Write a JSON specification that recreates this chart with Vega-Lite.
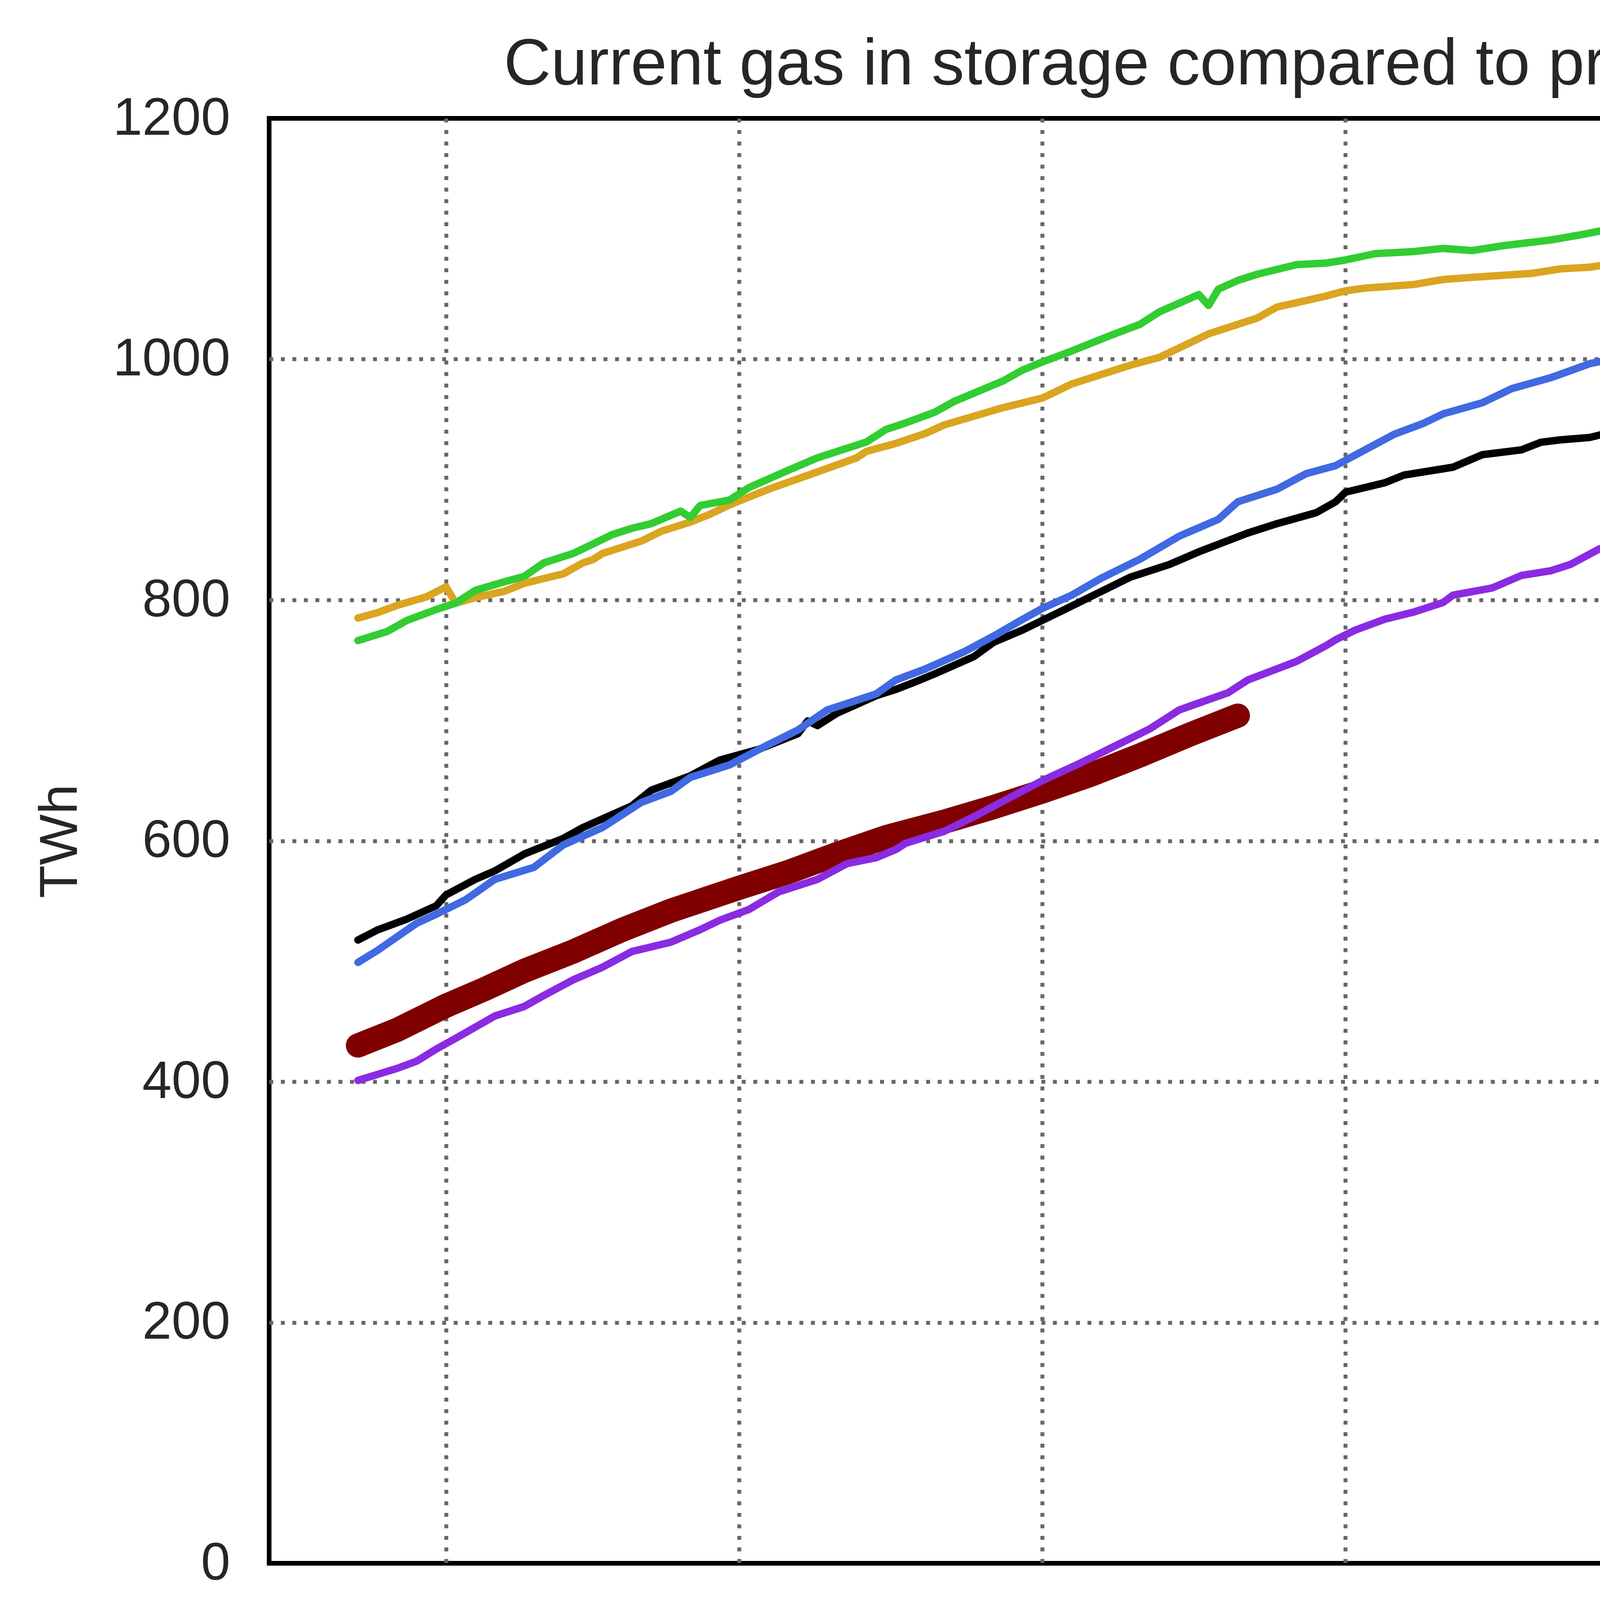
{
  "$schema": "https://vega.github.io/schema/vega-lite/v6.json",
  "title": {
    "text": "Current gas in storage compared to previous years",
    "fontSize": 167,
    "fontWeight": "normal",
    "color": "#262626",
    "font": "Liberation Sans",
    "baseline": "alphabetic",
    "offset": -147
  },
  "width": 4961,
  "height": 3699,
  "autosize": {"type": "none"},
  "padding": {"left": 689, "top": 303, "right": 101, "bottom": 704},
  "data": {
    "values": [
      {"s": "2026", "d": "2026-05-23", "v": 430},
      {"s": "2026", "d": "2026-05-27", "v": 443},
      {"s": "2026", "d": "2026-06-01", "v": 463},
      {"s": "2026", "d": "2026-06-05", "v": 477},
      {"s": "2026", "d": "2026-06-09", "v": 492},
      {"s": "2026", "d": "2026-06-14", "v": 508},
      {"s": "2026", "d": "2026-06-19", "v": 526},
      {"s": "2026", "d": "2026-06-24", "v": 542},
      {"s": "2026", "d": "2026-07-01", "v": 561},
      {"s": "2026", "d": "2026-07-06", "v": 574},
      {"s": "2026", "d": "2026-07-11", "v": 589},
      {"s": "2026", "d": "2026-07-16", "v": 603},
      {"s": "2026", "d": "2026-07-22", "v": 616},
      {"s": "2026", "d": "2026-07-27", "v": 628},
      {"s": "2026", "d": "2026-08-01", "v": 641},
      {"s": "2026", "d": "2026-08-06", "v": 655},
      {"s": "2026", "d": "2026-08-11", "v": 671},
      {"s": "2026", "d": "2026-08-16", "v": 688},
      {"s": "2026", "d": "2026-08-21", "v": 704},

      {"s": "2025", "d": "2026-05-23", "v": 517.6},
      {"s": "2025", "d": "2026-05-25", "v": 526},
      {"s": "2025", "d": "2026-05-28", "v": 535},
      {"s": "2025", "d": "2026-05-31", "v": 546},
      {"s": "2025", "d": "2026-06-01", "v": 555},
      {"s": "2025", "d": "2026-06-04", "v": 568},
      {"s": "2025", "d": "2026-06-06", "v": 575},
      {"s": "2025", "d": "2026-06-09", "v": 589},
      {"s": "2025", "d": "2026-06-13", "v": 602},
      {"s": "2025", "d": "2026-06-15", "v": 611},
      {"s": "2025", "d": "2026-06-20", "v": 629},
      {"s": "2025", "d": "2026-06-22", "v": 642},
      {"s": "2025", "d": "2026-06-26", "v": 654},
      {"s": "2025", "d": "2026-06-29", "v": 667},
      {"s": "2025", "d": "2026-07-03", "v": 676},
      {"s": "2025", "d": "2026-07-07", "v": 689},
      {"s": "2025", "d": "2026-07-08", "v": 699.6},
      {"s": "2025", "d": "2026-07-09", "v": 695.7},
      {"s": "2025", "d": "2026-07-11", "v": 706},
      {"s": "2025", "d": "2026-07-15", "v": 720.5},
      {"s": "2025", "d": "2026-07-17", "v": 725.7},
      {"s": "2025", "d": "2026-07-19", "v": 732},
      {"s": "2025", "d": "2026-07-21", "v": 738.7},
      {"s": "2025", "d": "2026-07-25", "v": 753},
      {"s": "2025", "d": "2026-07-27", "v": 764.8},
      {"s": "2025", "d": "2026-07-30", "v": 775.2},
      {"s": "2025", "d": "2026-08-03", "v": 791},
      {"s": "2025", "d": "2026-08-06", "v": 803},
      {"s": "2025", "d": "2026-08-10", "v": 819},
      {"s": "2025", "d": "2026-08-14", "v": 829.5},
      {"s": "2025", "d": "2026-08-17", "v": 840},
      {"s": "2025", "d": "2026-08-22", "v": 855.6},
      {"s": "2025", "d": "2026-08-25", "v": 863.4},
      {"s": "2025", "d": "2026-08-29", "v": 872.5},
      {"s": "2025", "d": "2026-08-31", "v": 881.6},
      {"s": "2025", "d": "2026-09-01", "v": 889.5},
      {"s": "2025", "d": "2026-09-05", "v": 897.3},
      {"s": "2025", "d": "2026-09-07", "v": 903.8},
      {"s": "2025", "d": "2026-09-12", "v": 910.3},
      {"s": "2025", "d": "2026-09-15", "v": 920.7},
      {"s": "2025", "d": "2026-09-19", "v": 924.7},
      {"s": "2025", "d": "2026-09-21", "v": 931},
      {"s": "2025", "d": "2026-09-23", "v": 933},
      {"s": "2025", "d": "2026-09-26", "v": 935},
      {"s": "2025", "d": "2026-09-28", "v": 939},
      {"s": "2025", "d": "2026-09-30", "v": 937.7},
      {"s": "2025", "d": "2026-10-01", "v": 940.8},
      {"s": "2025", "d": "2026-10-05", "v": 943.4},
      {"s": "2025", "d": "2026-10-07", "v": 947.3},
      {"s": "2025", "d": "2026-10-10", "v": 945},
      {"s": "2025", "d": "2026-10-12", "v": 949.4},
      {"s": "2025", "d": "2026-10-15", "v": 946.8},
      {"s": "2025", "d": "2026-10-17", "v": 944.2},
      {"s": "2025", "d": "2026-10-19", "v": 945.5},
      {"s": "2025", "d": "2026-10-26", "v": 945.5},
      {"s": "2025", "d": "2026-10-29", "v": 944.7},
      {"s": "2025", "d": "2026-11-01", "v": 946.8},
      {"s": "2025", "d": "2026-11-04", "v": 949.4},
      {"s": "2025", "d": "2026-11-06", "v": 947.3},
      {"s": "2025", "d": "2026-11-07", "v": 944.2},
      {"s": "2025", "d": "2026-11-10", "v": 940.8},
      {"s": "2025", "d": "2026-11-12", "v": 938.2},
      {"s": "2025", "d": "2026-11-16", "v": 935},
      {"s": "2025", "d": "2026-11-18", "v": 930},
      {"s": "2025", "d": "2026-11-19", "v": 921},

      {"s": "2024", "d": "2026-05-23", "v": 785},
      {"s": "2024", "d": "2026-05-25", "v": 789.5},
      {"s": "2024", "d": "2026-05-27", "v": 795.5},
      {"s": "2024", "d": "2026-05-30", "v": 802.6},
      {"s": "2024", "d": "2026-06-01", "v": 811},
      {"s": "2024", "d": "2026-06-02", "v": 797.4},
      {"s": "2024", "d": "2026-06-04", "v": 802},
      {"s": "2024", "d": "2026-06-07", "v": 807.3},
      {"s": "2024", "d": "2026-06-09", "v": 813.9},
      {"s": "2024", "d": "2026-06-13", "v": 821.7},
      {"s": "2024", "d": "2026-06-15", "v": 830.8},
      {"s": "2024", "d": "2026-06-16", "v": 833.4},
      {"s": "2024", "d": "2026-06-17", "v": 838.6},
      {"s": "2024", "d": "2026-06-21", "v": 849},
      {"s": "2024", "d": "2026-06-23", "v": 857},
      {"s": "2024", "d": "2026-06-26", "v": 864.7},
      {"s": "2024", "d": "2026-06-28", "v": 871.2},
      {"s": "2024", "d": "2026-06-30", "v": 879},
      {"s": "2024", "d": "2026-07-04", "v": 892},
      {"s": "2024", "d": "2026-07-09", "v": 906.4},
      {"s": "2024", "d": "2026-07-13", "v": 918},
      {"s": "2024", "d": "2026-07-14", "v": 923.4},
      {"s": "2024", "d": "2026-07-17", "v": 930},
      {"s": "2024", "d": "2026-07-20", "v": 938.2},
      {"s": "2024", "d": "2026-07-22", "v": 945.5},
      {"s": "2024", "d": "2026-07-28", "v": 959.8},
      {"s": "2024", "d": "2026-08-01", "v": 967.7},
      {"s": "2024", "d": "2026-08-04", "v": 979.4},
      {"s": "2024", "d": "2026-08-10", "v": 995},
      {"s": "2024", "d": "2026-08-13", "v": 1001.6},
      {"s": "2024", "d": "2026-08-18", "v": 1021},
      {"s": "2024", "d": "2026-08-23", "v": 1034.2},
      {"s": "2024", "d": "2026-08-25", "v": 1043.3},
      {"s": "2024", "d": "2026-08-30", "v": 1052.4},
      {"s": "2024", "d": "2026-09-01", "v": 1056.8},
      {"s": "2024", "d": "2026-09-03", "v": 1059},
      {"s": "2024", "d": "2026-09-08", "v": 1062},
      {"s": "2024", "d": "2026-09-11", "v": 1066.2},
      {"s": "2024", "d": "2026-09-14", "v": 1068},
      {"s": "2024", "d": "2026-09-20", "v": 1071.2},
      {"s": "2024", "d": "2026-09-23", "v": 1075},
      {"s": "2024", "d": "2026-09-26", "v": 1076.4},
      {"s": "2024", "d": "2026-09-29", "v": 1080.3},
      {"s": "2024", "d": "2026-10-01", "v": 1081},
      {"s": "2024", "d": "2026-10-04", "v": 1081},
      {"s": "2024", "d": "2026-10-06", "v": 1084.2},
      {"s": "2024", "d": "2026-10-10", "v": 1087.6},
      {"s": "2024", "d": "2026-10-13", "v": 1091.5},
      {"s": "2024", "d": "2026-10-18", "v": 1090.7},
      {"s": "2024", "d": "2026-10-20", "v": 1094.6},
      {"s": "2024", "d": "2026-10-22", "v": 1094},
      {"s": "2024", "d": "2026-10-25", "v": 1091.5},
      {"s": "2024", "d": "2026-10-28", "v": 1094},
      {"s": "2024", "d": "2026-10-31", "v": 1090.2},
      {"s": "2024", "d": "2026-11-02", "v": 1093.6},
      {"s": "2024", "d": "2026-11-04", "v": 1092.8},
      {"s": "2024", "d": "2026-11-06", "v": 1087},
      {"s": "2024", "d": "2026-11-08", "v": 1074.6},
      {"s": "2024", "d": "2026-11-11", "v": 1068},
      {"s": "2024", "d": "2026-11-13", "v": 1059},
      {"s": "2024", "d": "2026-11-15", "v": 1047.2},
      {"s": "2024", "d": "2026-11-17", "v": 1040.7},
      {"s": "2024", "d": "2026-11-19", "v": 1031},

      {"s": "2023", "d": "2026-05-23", "v": 766.3},
      {"s": "2023", "d": "2026-05-26", "v": 773.9},
      {"s": "2023", "d": "2026-05-28", "v": 783},
      {"s": "2023", "d": "2026-05-31", "v": 792.1},
      {"s": "2023", "d": "2026-06-02", "v": 797.4},
      {"s": "2023", "d": "2026-06-04", "v": 808},
      {"s": "2023", "d": "2026-06-07", "v": 815.2},
      {"s": "2023", "d": "2026-06-09", "v": 819.6},
      {"s": "2023", "d": "2026-06-11", "v": 830.8},
      {"s": "2023", "d": "2026-06-14", "v": 838.6},
      {"s": "2023", "d": "2026-06-16", "v": 846.4},
      {"s": "2023", "d": "2026-06-18", "v": 854.3},
      {"s": "2023", "d": "2026-06-20", "v": 859.5},
      {"s": "2023", "d": "2026-06-22", "v": 863.4},
      {"s": "2023", "d": "2026-06-25", "v": 873.8},
      {"s": "2023", "d": "2026-06-26", "v": 868.6},
      {"s": "2023", "d": "2026-06-27", "v": 878.5},
      {"s": "2023", "d": "2026-06-30", "v": 883},
      {"s": "2023", "d": "2026-07-02", "v": 893.4},
      {"s": "2023", "d": "2026-07-06", "v": 907.7},
      {"s": "2023", "d": "2026-07-09", "v": 918.1},
      {"s": "2023", "d": "2026-07-14", "v": 931.2},
      {"s": "2023", "d": "2026-07-16", "v": 941.6},
      {"s": "2023", "d": "2026-07-18", "v": 947},
      {"s": "2023", "d": "2026-07-21", "v": 956},
      {"s": "2023", "d": "2026-07-23", "v": 965},
      {"s": "2023", "d": "2026-07-28", "v": 982},
      {"s": "2023", "d": "2026-07-30", "v": 991.1},
      {"s": "2023", "d": "2026-08-01", "v": 997.7},
      {"s": "2023", "d": "2026-08-04", "v": 1006.8},
      {"s": "2023", "d": "2026-08-08", "v": 1019.8},
      {"s": "2023", "d": "2026-08-11", "v": 1029},
      {"s": "2023", "d": "2026-08-13", "v": 1039.4},
      {"s": "2023", "d": "2026-08-17", "v": 1053.7},
      {"s": "2023", "d": "2026-08-18", "v": 1044.6},
      {"s": "2023", "d": "2026-08-19", "v": 1058.1},
      {"s": "2023", "d": "2026-08-21", "v": 1065.4},
      {"s": "2023", "d": "2026-08-23", "v": 1070.6},
      {"s": "2023", "d": "2026-08-27", "v": 1078.5},
      {"s": "2023", "d": "2026-08-30", "v": 1079.8},
      {"s": "2023", "d": "2026-09-01", "v": 1082.4},
      {"s": "2023", "d": "2026-09-04", "v": 1087.6},
      {"s": "2023", "d": "2026-09-08", "v": 1089.4},
      {"s": "2023", "d": "2026-09-11", "v": 1092},
      {"s": "2023", "d": "2026-09-14", "v": 1090.2},
      {"s": "2023", "d": "2026-09-17", "v": 1094.1},
      {"s": "2023", "d": "2026-09-22", "v": 1099},
      {"s": "2023", "d": "2026-09-25", "v": 1103.2},
      {"s": "2023", "d": "2026-09-30", "v": 1111.1},
      {"s": "2023", "d": "2026-10-05", "v": 1120.2},
      {"s": "2023", "d": "2026-10-07", "v": 1125.9},
      {"s": "2023", "d": "2026-10-08", "v": 1101.9},
      {"s": "2023", "d": "2026-10-09", "v": 1129.3},
      {"s": "2023", "d": "2026-10-12", "v": 1134.5},
      {"s": "2023", "d": "2026-10-15", "v": 1143.1},
      {"s": "2023", "d": "2026-10-19", "v": 1143.1},
      {"s": "2023", "d": "2026-10-22", "v": 1151.5},
      {"s": "2023", "d": "2026-10-27", "v": 1151.5},
      {"s": "2023", "d": "2026-10-30", "v": 1158},
      {"s": "2023", "d": "2026-11-02", "v": 1161.9},
      {"s": "2023", "d": "2026-11-05", "v": 1164.5},
      {"s": "2023", "d": "2026-11-07", "v": 1164.5},
      {"s": "2023", "d": "2026-11-10", "v": 1161.4},
      {"s": "2023", "d": "2026-11-12", "v": 1161.4},
      {"s": "2023", "d": "2026-11-15", "v": 1160.6},
      {"s": "2023", "d": "2026-11-17", "v": 1155.4},
      {"s": "2023", "d": "2026-11-19", "v": 1156.2},

      {"s": "2022", "d": "2026-05-23", "v": 499},
      {"s": "2022", "d": "2026-05-25", "v": 509},
      {"s": "2022", "d": "2026-05-29", "v": 531.5},
      {"s": "2022", "d": "2026-05-31", "v": 539},
      {"s": "2022", "d": "2026-06-03", "v": 551},
      {"s": "2022", "d": "2026-06-06", "v": 568},
      {"s": "2022", "d": "2026-06-10", "v": 578},
      {"s": "2022", "d": "2026-06-13", "v": 596.6},
      {"s": "2022", "d": "2026-06-17", "v": 611},
      {"s": "2022", "d": "2026-06-21", "v": 632},
      {"s": "2022", "d": "2026-06-24", "v": 641},
      {"s": "2022", "d": "2026-06-26", "v": 652.7},
      {"s": "2022", "d": "2026-06-30", "v": 663},
      {"s": "2022", "d": "2026-07-04", "v": 680},
      {"s": "2022", "d": "2026-07-07", "v": 692},
      {"s": "2022", "d": "2026-07-10", "v": 708.7},
      {"s": "2022", "d": "2026-07-15", "v": 722},
      {"s": "2022", "d": "2026-07-17", "v": 733.5},
      {"s": "2022", "d": "2026-07-20", "v": 742.6},
      {"s": "2022", "d": "2026-07-24", "v": 757},
      {"s": "2022", "d": "2026-07-27", "v": 770},
      {"s": "2022", "d": "2026-07-30", "v": 784},
      {"s": "2022", "d": "2026-08-01", "v": 793},
      {"s": "2022", "d": "2026-08-04", "v": 804},
      {"s": "2022", "d": "2026-08-07", "v": 818},
      {"s": "2022", "d": "2026-08-11", "v": 834},
      {"s": "2022", "d": "2026-08-15", "v": 853},
      {"s": "2022", "d": "2026-08-19", "v": 867},
      {"s": "2022", "d": "2026-08-21", "v": 881.6},
      {"s": "2022", "d": "2026-08-25", "v": 892},
      {"s": "2022", "d": "2026-08-28", "v": 905},
      {"s": "2022", "d": "2026-08-31", "v": 911.6},
      {"s": "2022", "d": "2026-09-03", "v": 924.7},
      {"s": "2022", "d": "2026-09-06", "v": 937.7},
      {"s": "2022", "d": "2026-09-09", "v": 946.8},
      {"s": "2022", "d": "2026-09-11", "v": 954.6},
      {"s": "2022", "d": "2026-09-15", "v": 963.8},
      {"s": "2022", "d": "2026-09-18", "v": 975.5},
      {"s": "2022", "d": "2026-09-22", "v": 984.6},
      {"s": "2022", "d": "2026-09-26", "v": 996.3},
      {"s": "2022", "d": "2026-09-30", "v": 1003},
      {"s": "2022", "d": "2026-10-02", "v": 1013},
      {"s": "2022", "d": "2026-10-07", "v": 1026},
      {"s": "2022", "d": "2026-10-10", "v": 1037},
      {"s": "2022", "d": "2026-10-13", "v": 1042},
      {"s": "2022", "d": "2026-10-17", "v": 1052},
      {"s": "2022", "d": "2026-10-21", "v": 1059},
      {"s": "2022", "d": "2026-10-25", "v": 1066.7},
      {"s": "2022", "d": "2026-10-28", "v": 1072},
      {"s": "2022", "d": "2026-10-31", "v": 1078.5},
      {"s": "2022", "d": "2026-11-02", "v": 1081.6},
      {"s": "2022", "d": "2026-11-06", "v": 1083.7},
      {"s": "2022", "d": "2026-11-09", "v": 1088.4},
      {"s": "2022", "d": "2026-11-12", "v": 1091.5},
      {"s": "2022", "d": "2026-11-13", "v": 1092.8},
      {"s": "2022", "d": "2026-11-15", "v": 1089},
      {"s": "2022", "d": "2026-11-17", "v": 1088.4},
      {"s": "2022", "d": "2026-11-19", "v": 1086.3},

      {"s": "2021", "d": "2026-05-23", "v": 401},
      {"s": "2021", "d": "2026-05-25", "v": 406},
      {"s": "2021", "d": "2026-05-27", "v": 411},
      {"s": "2021", "d": "2026-05-29", "v": 417},
      {"s": "2021", "d": "2026-05-31", "v": 427},
      {"s": "2021", "d": "2026-06-02", "v": 436},
      {"s": "2021", "d": "2026-06-06", "v": 454.5},
      {"s": "2021", "d": "2026-06-09", "v": 462.4},
      {"s": "2021", "d": "2026-06-11", "v": 471.5},
      {"s": "2021", "d": "2026-06-14", "v": 484.5},
      {"s": "2021", "d": "2026-06-17", "v": 495},
      {"s": "2021", "d": "2026-06-20", "v": 508},
      {"s": "2021", "d": "2026-06-24", "v": 515.8},
      {"s": "2021", "d": "2026-06-27", "v": 526.2},
      {"s": "2021", "d": "2026-06-29", "v": 534},
      {"s": "2021", "d": "2026-07-02", "v": 543},
      {"s": "2021", "d": "2026-07-05", "v": 557.5},
      {"s": "2021", "d": "2026-07-09", "v": 568},
      {"s": "2021", "d": "2026-07-12", "v": 581},
      {"s": "2021", "d": "2026-07-15", "v": 586},
      {"s": "2021", "d": "2026-07-17", "v": 592.7},
      {"s": "2021", "d": "2026-07-18", "v": 597.9},
      {"s": "2021", "d": "2026-07-20", "v": 603},
      {"s": "2021", "d": "2026-07-22", "v": 608},
      {"s": "2021", "d": "2026-07-25", "v": 620},
      {"s": "2021", "d": "2026-07-28", "v": 633},
      {"s": "2021", "d": "2026-08-01", "v": 650},
      {"s": "2021", "d": "2026-08-05", "v": 665},
      {"s": "2021", "d": "2026-08-08", "v": 677},
      {"s": "2021", "d": "2026-08-12", "v": 693},
      {"s": "2021", "d": "2026-08-15", "v": 708.7},
      {"s": "2021", "d": "2026-08-20", "v": 723},
      {"s": "2021", "d": "2026-08-22", "v": 733.5},
      {"s": "2021", "d": "2026-08-27", "v": 749},
      {"s": "2021", "d": "2026-08-30", "v": 762},
      {"s": "2021", "d": "2026-08-31", "v": 767},
      {"s": "2021", "d": "2026-09-02", "v": 775},
      {"s": "2021", "d": "2026-09-05", "v": 784},
      {"s": "2021", "d": "2026-09-08", "v": 790},
      {"s": "2021", "d": "2026-09-11", "v": 798},
      {"s": "2021", "d": "2026-09-12", "v": 804},
      {"s": "2021", "d": "2026-09-16", "v": 810},
      {"s": "2021", "d": "2026-09-19", "v": 820.4},
      {"s": "2021", "d": "2026-09-22", "v": 824.3},
      {"s": "2021", "d": "2026-09-24", "v": 829.5},
      {"s": "2021", "d": "2026-09-27", "v": 842.5},
      {"s": "2021", "d": "2026-10-01", "v": 851.7},
      {"s": "2021", "d": "2026-10-02", "v": 855.6},
      {"s": "2021", "d": "2026-10-04", "v": 860.8},
      {"s": "2021", "d": "2026-10-06", "v": 864.7},
      {"s": "2021", "d": "2026-10-08", "v": 866},
      {"s": "2021", "d": "2026-10-09", "v": 868.6},
      {"s": "2021", "d": "2026-10-10", "v": 876.4},
      {"s": "2021", "d": "2026-10-12", "v": 877},
      {"s": "2021", "d": "2026-10-14", "v": 875},
      {"s": "2021", "d": "2026-10-15", "v": 875},
      {"s": "2021", "d": "2026-10-18", "v": 877.7},
      {"s": "2021", "d": "2026-10-20", "v": 878.3},
      {"s": "2021", "d": "2026-10-21", "v": 880.3},
      {"s": "2021", "d": "2026-10-23", "v": 878.5},
      {"s": "2021", "d": "2026-10-25", "v": 878.3},
      {"s": "2021", "d": "2026-10-26", "v": 875.6},
      {"s": "2021", "d": "2026-10-29", "v": 875.6},
      {"s": "2021", "d": "2026-11-01", "v": 878.3},
      {"s": "2021", "d": "2026-11-02", "v": 877},
      {"s": "2021", "d": "2026-11-04", "v": 870},
      {"s": "2021", "d": "2026-11-06", "v": 865.2},
      {"s": "2021", "d": "2026-11-07", "v": 864.2},
      {"s": "2021", "d": "2026-11-10", "v": 857},
      {"s": "2021", "d": "2026-11-12", "v": 848},
      {"s": "2021", "d": "2026-11-14", "v": 845},
      {"s": "2021", "d": "2026-11-17", "v": 834.7},
      {"s": "2021", "d": "2026-11-19", "v": 828}
    ]
  },
  "mark": {"type": "line", "strokeCap": "round", "strokeJoin": "round"},
  "encoding": {
    "x": {
      "field": "d",
      "type": "temporal",
      "scale": {
        "type": "utc",
        "domain": [
          {"year": 2026, "month": 5, "date": 13, "hours": 22, "utc": true},
          {"year": 2026, "month": 11, "date": 28, "hours": 3, "utc": true}
        ]
      },
      "axis": {
        "title": null,
        "format": "%Y-%m",
        "values": [
          {"year": 2026, "month": 6, "date": 1, "utc": true},
          {"year": 2026, "month": 7, "date": 1, "utc": true},
          {"year": 2026, "month": 8, "date": 1, "utc": true},
          {"year": 2026, "month": 9, "date": 1, "utc": true},
          {"year": 2026, "month": 10, "date": 1, "utc": true},
          {"year": 2026, "month": 11, "date": 1, "utc": true}
        ],
        "labelAngle": 270,
        "labelPadding": 104
      }
    },
    "y": {
      "field": "v",
      "type": "quantitative",
      "scale": {"domain": [0, 1200], "nice": false},
      "axis": {
        "title": "TWh",
        "format": "d",
        "values": [0, 200, 400, 600, 800, 1000, 1200],
        "labelPadding": 100,
        "titleX": -534,
        "titleY": 1850,
        "titleAngle": 270,
        "titleAlign": "center",
        "titleBaseline": "middle",
        "titleFontSize": 138,
        "gridOpacity": {"condition": {"test": "datum.value == 0 || datum.value == 1200", "value": 0}, "value": 1}
      }
    },
    "color": {
      "field": "s",
      "type": "ordinal",
      "scale": {
        "domain": ["2026", "2025", "2024", "2023", "2022", "2021"],
        "range": ["#800000", "#000000", "#DAA520", "#32CD32", "#4169E1", "#8A2BE2"]
      },
      "legend": {"title": null}
    },
    "strokeWidth": {
      "field": "s",
      "type": "ordinal",
      "scale": {
        "type": "ordinal",
        "domain": ["2026", "2025", "2024", "2023", "2022", "2021"],
        "range": [62, 19, 19, 19, 19, 19]
      },
      "legend": {"title": null}
    }
  },
  "config": {
    "font": "Liberation Sans",
    "view": {"stroke": "#000000", "strokeWidth": 12},
    "axis": {
      "domain": false,
      "ticks": false,
      "tickSize": 0,
      "grid": true,
      "gridColor": "#666666",
      "gridWidth": 10,
      "gridDash": [10, 19.5],
      "labelFont": "Liberation Sans",
      "labelFontSize": 135,
      "labelColor": "#262626",
      "labelLimit": 0,
      "labelOverlap": false,
      "labelBound": false,
      "titleFont": "Liberation Sans",
      "titleFontWeight": "normal",
      "titleColor": "#262626"
    },
    "legend": {
      "orient": "none",
      "legendX": 4072,
      "legendY": 2375,
      "labelFont": "Liberation Sans",
      "labelFontSize": 135,
      "labelColor": "#262626",
      "labelLimit": 0,
      "symbolType": "M-4.5,0H4.5",
      "symbolSize": 4356,
      "symbolStrokeWidth": 19,
      "symbolOffset": 80,
      "labelOffset": 156,
      "padding": 63,
      "gridAlign": "all",
      "rowPadding": 7,
      "fillColor": "rgba(255,255,255,0.8)",
      "strokeColor": "#d6d6d6",
      "strokeWidth": 10,
      "cornerRadius": 30
    }
  }
}
